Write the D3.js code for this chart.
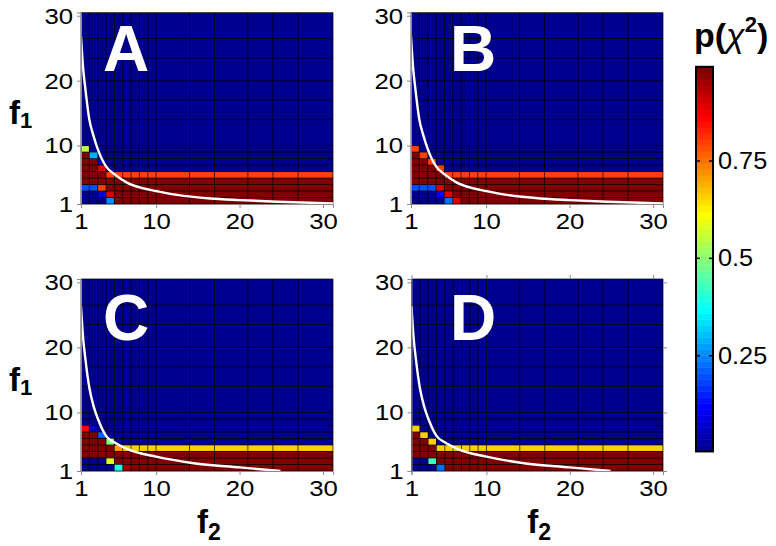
<!DOCTYPE html>
<html>
<head>
<meta charset="utf-8">
<title>p(chi2) maps</title>
<script src="https://d3js.org/d3.v7.min.js"></script>
<style>
  body { margin: 0; background: #fff; }
  text { font-family: "Liberation Sans", Arial, sans-serif; }
</style>
</head>
<body>
<script>
// cell edges of the pcolor grid
var f1Edges = [1, 2, 3, 4, 5, 6, 7, 8, 9, 10, 14, 17, 20, 23.5, 26.5, 30.5];
var f2Edges = [1, 2, 3, 4, 5, 6, 7, 8, 9, 10, 14, 17, 21, 24, 27, 31.2];
var axisTicks = [1, 10, 20, 30];
var cbTicks = [0.25, 0.5, 0.75];
var cbLabels = ['0.25', '0.5', '0.75'];
var cbRange = [0.004, 0.992];

// p(chi2) per cell, rows from f1 = 1 upward, columns from f2 = 1 rightward
var pA = [
  [0, 0, 0, 0.255, 1, 1, 1, 1, 1, 1, 1, 1, 1, 1, 1],
  [0, 0, 0.08, 0.9, 1, 1, 1, 1, 1, 1, 1, 1, 1, 1, 1],
  [0.19, 0.19, 0.8, 1, 1, 1, 1, 1, 1, 1, 1, 1, 1, 1, 1],
  [1, 1, 1, 1, 1, 1, 1, 1, 1, 1, 1, 1, 1, 1, 1],
  [1, 1, 1, 0.8, 0.8, 0.8, 0.8, 0.8, 0.8, 0.8, 0.8, 0.8, 0.8, 0.8, 0.8],
  [1, 1, 0.9, 0, 0, 0, 0, 0, 0, 0, 0, 0, 0, 0, 0],
  [1, 1, 0.06, 0, 0, 0, 0, 0, 0, 0, 0, 0, 0, 0, 0],
  [1, 0.285, 0, 0, 0, 0, 0, 0, 0, 0, 0, 0, 0, 0, 0],
  [0.55, 0, 0, 0, 0, 0, 0, 0, 0, 0, 0, 0, 0, 0, 0],
  [0, 0, 0, 0, 0, 0, 0, 0, 0, 0, 0, 0, 0, 0, 0],
  [0, 0, 0, 0, 0, 0, 0, 0, 0, 0, 0, 0, 0, 0, 0],
  [0, 0, 0, 0, 0, 0, 0, 0, 0, 0, 0, 0, 0, 0, 0],
  [0, 0, 0, 0, 0, 0, 0, 0, 0, 0, 0, 0, 0, 0, 0],
  [0, 0, 0, 0, 0, 0, 0, 0, 0, 0, 0, 0, 0, 0, 0],
  [0, 0, 0, 0, 0, 0, 0, 0, 0, 0, 0, 0, 0, 0, 0]
];
var pB = [
  [0, 0, 0, 0, 0.22, 0.9, 1, 1, 1, 1, 1, 1, 1, 1, 1],
  [0, 0, 0, 0.11, 0.9, 1, 1, 1, 1, 1, 1, 1, 1, 1, 1],
  [0.2, 0.2, 0.2, 0.9, 1, 1, 1, 1, 1, 1, 1, 1, 1, 1, 1],
  [1, 1, 1, 1, 1, 1, 1, 1, 1, 1, 1, 1, 1, 1, 1],
  [1, 1, 1, 1, 0.8, 0.8, 0.8, 0.8, 0.8, 0.8, 0.8, 0.8, 0.8, 0.8, 0.8],
  [1, 1, 1, 0.8, 0, 0, 0, 0, 0, 0, 0, 0, 0, 0, 0],
  [1, 1, 0.8, 0, 0, 0, 0, 0, 0, 0, 0, 0, 0, 0, 0],
  [1, 0.8, 0, 0, 0, 0, 0, 0, 0, 0, 0, 0, 0, 0, 0],
  [0.8, 0, 0, 0, 0, 0, 0, 0, 0, 0, 0, 0, 0, 0, 0],
  [0, 0, 0, 0, 0, 0, 0, 0, 0, 0, 0, 0, 0, 0, 0],
  [0, 0, 0, 0, 0, 0, 0, 0, 0, 0, 0, 0, 0, 0, 0],
  [0, 0, 0, 0, 0, 0, 0, 0, 0, 0, 0, 0, 0, 0, 0],
  [0, 0, 0, 0, 0, 0, 0, 0, 0, 0, 0, 0, 0, 0, 0],
  [0, 0, 0, 0, 0, 0, 0, 0, 0, 0, 0, 0, 0, 0, 0],
  [0, 0, 0, 0, 0, 0, 0, 0, 0, 0, 0, 0, 0, 0, 0]
];
var pC = [
  [0, 0, 0, 0, 0.4, 0.955, 1, 1, 1, 1, 1, 1, 1, 1, 1],
  [0, 0, 0, 0.58, 1, 1, 1, 1, 1, 1, 1, 1, 1, 1, 1],
  [1, 1, 1, 1, 1, 1, 1, 1, 1, 1, 1, 1, 1, 1, 1],
  [1, 1, 1, 1, 0.71, 0.66, 0.66, 0.66, 0.66, 0.66, 0.66, 0.66, 0.66, 0.66, 0.66],
  [1, 1, 1, 0.49, 0, 0, 0, 0, 0, 0, 0, 0, 0, 0, 0],
  [1, 1, 0.21, 0, 0, 0, 0, 0, 0, 0, 0, 0, 0, 0, 0],
  [0.86, 0.06, 0, 0, 0, 0, 0, 0, 0, 0, 0, 0, 0, 0, 0],
  [0, 0, 0, 0, 0, 0, 0, 0, 0, 0, 0, 0, 0, 0, 0],
  [0, 0, 0, 0, 0, 0, 0, 0, 0, 0, 0, 0, 0, 0, 0],
  [0, 0, 0, 0, 0, 0, 0, 0, 0, 0, 0, 0, 0, 0, 0],
  [0, 0, 0, 0, 0, 0, 0, 0, 0, 0, 0, 0, 0, 0, 0],
  [0, 0, 0, 0, 0, 0, 0, 0, 0, 0, 0, 0, 0, 0, 0],
  [0, 0, 0, 0, 0, 0, 0, 0, 0, 0, 0, 0, 0, 0, 0],
  [0, 0, 0, 0, 0, 0, 0, 0, 0, 0, 0, 0, 0, 0, 0],
  [0, 0, 0, 0, 0, 0, 0, 0, 0, 0, 0, 0, 0, 0, 0]
];
var pD = [
  [0, 0, 0, 0.22, 1, 1, 1, 1, 1, 1, 1, 1, 1, 1, 1],
  [0, 0, 0.43, 1, 1, 1, 1, 1, 1, 1, 1, 1, 1, 1, 1],
  [1, 1, 1, 1, 1, 1, 1, 1, 1, 1, 1, 1, 1, 1, 1],
  [1, 1, 1, 0.66, 0.66, 0.66, 0.66, 0.66, 0.66, 0.66, 0.66, 0.66, 0.66, 0.66, 0.66],
  [1, 1, 0.66, 0, 0, 0, 0, 0, 0, 0, 0, 0, 0, 0, 0],
  [1, 0.66, 0, 0, 0, 0, 0, 0, 0, 0, 0, 0, 0, 0, 0],
  [0.66, 0, 0, 0, 0, 0, 0, 0, 0, 0, 0, 0, 0, 0, 0],
  [0, 0, 0, 0, 0, 0, 0, 0, 0, 0, 0, 0, 0, 0, 0],
  [0, 0, 0, 0, 0, 0, 0, 0, 0, 0, 0, 0, 0, 0, 0],
  [0, 0, 0, 0, 0, 0, 0, 0, 0, 0, 0, 0, 0, 0, 0],
  [0, 0, 0, 0, 0, 0, 0, 0, 0, 0, 0, 0, 0, 0, 0],
  [0, 0, 0, 0, 0, 0, 0, 0, 0, 0, 0, 0, 0, 0, 0],
  [0, 0, 0, 0, 0, 0, 0, 0, 0, 0, 0, 0, 0, 0, 0],
  [0, 0, 0, 0, 0, 0, 0, 0, 0, 0, 0, 0, 0, 0, 0],
  [0, 0, 0, 0, 0, 0, 0, 0, 0, 0, 0, 0, 0, 0, 0]
];

// white boundary curve
var curveF2Top = [1, 1.25, 1.5, 2, 2.5, 3, 4, 5, 6.5, 8.5, 10, 12.5, 16.5, 20, 24.5, 31.2];
var curveF1Top = [26.8, 22, 19, 14, 11.5, 9.5, 6.8, 5.6, 4.3, 3.4, 3.0, 2.4, 1.85, 1.6, 1.35, 1.08];
var curveF2Bot = [1, 1.25, 1.5, 2, 2.5, 3, 4, 5, 6.5, 10, 14.5, 20, 24.9];
var curveF1Bot = [26.3, 21.5, 18.5, 13.8, 11, 9.1, 6.4, 5.4, 4.4, 3.2, 2.2, 1.55, 1.0];

// MATLAB-like jet(64)
var jetColors = d3.range(1, 65).map(function (i) {
  var t = i / 64;
  var c = function (v) { return Math.max(0, Math.min(1, v)) * 255; };
  return d3.rgb(c(1.5 - Math.abs(4 * t - 3)), c(1.5 - Math.abs(4 * t - 2)), c(1.5 - Math.abs(4 * t - 1))).toString();
});
var color = d3.scaleQuantize().domain([0, 1]).range(jetColors);

var panels = [
  { name: 'A', data: pA, left: 81, right: 333, top: 12.5, bottom: 204, cx: curveF2Top, cy: curveF1Top, lx: 126, ly: 71, ylab: true, xlab: false, box: false },
  { name: 'B', data: pB, left: 411, right: 663, top: 12.5, bottom: 204, cx: curveF2Top, cy: curveF1Top, lx: 473, ly: 71, ylab: false, xlab: false, box: false },
  { name: 'C', data: pC, left: 81, right: 333, top: 279, bottom: 471, cx: curveF2Bot, cy: curveF1Bot, lx: 126, ly: 340, ylab: true, xlab: true, box: false },
  { name: 'D', data: pD, left: 411.5, right: 663, top: 279, bottom: 471, cx: curveF2Bot, cy: curveF1Bot, lx: 473, ly: 340, ylab: false, xlab: true, box: true }
];

var svg = d3.select('body').append('svg')
  .attr('width', 776)
  .attr('height', 546);

panels.forEach(function (p, k) {
  var x = d3.scaleLinear().domain([1, 31.2]).range([p.left, p.right]);
  var y = d3.scaleLinear().domain([1, 30.5]).range([p.bottom, p.top]);
  var g = svg.append('g');

  svg.append('clipPath').attr('id', 'clip' + k)
    .append('rect')
    .attr('x', p.left).attr('y', p.top)
    .attr('width', p.right - p.left).attr('height', p.bottom - p.top);

  var cells = [];
  p.data.forEach(function (row, r) {
    row.forEach(function (v, c) { cells.push({ r: r, c: c, v: v }); });
  });
  g.selectAll('rect.cell')
    .data(cells)
    .enter().append('rect')
    .attr('class', 'cell')
    .attr('x', function (d) { return x(f2Edges[d.c]); })
    .attr('y', function (d) { return y(f1Edges[d.r + 1]); })
    .attr('width', function (d) { return x(f2Edges[d.c + 1]) - x(f2Edges[d.c]); })
    .attr('height', function (d) { return y(f1Edges[d.r]) - y(f1Edges[d.r + 1]); })
    .attr('fill', function (d) { return color(d.v); })
    .attr('shape-rendering', 'crispEdges');

  // pcolor edges
  g.selectAll('line.vg')
    .data(f2Edges)
    .enter().append('line')
    .attr('x1', function (d) { return x(d); }).attr('x2', function (d) { return x(d); })
    .attr('y1', p.top).attr('y2', p.bottom)
    .attr('stroke', '#000').attr('stroke-opacity', 0.7).attr('stroke-width', 1);
  g.selectAll('line.hg')
    .data(f1Edges)
    .enter().append('line')
    .attr('y1', function (d) { return y(d); }).attr('y2', function (d) { return y(d); })
    .attr('x1', p.left).attr('x2', p.right)
    .attr('stroke', '#000').attr('stroke-opacity', 0.7).attr('stroke-width', 1);

  // boundary curve
  var pts = p.cx.map(function (v, i) { return [v, p.cy[i]]; });
  g.append('path')
    .datum(pts)
    .attr('clip-path', 'url(#clip' + k + ')')
    .attr('fill', 'none')
    .attr('stroke', '#fff')
    .attr('stroke-width', 2.4)
    .attr('d', d3.line()
      .x(function (d) { return x(d[0]); })
      .y(function (d) { return y(d[1]); })
      .curve(d3.curveMonotoneX));

  // axes
  var yAxis = d3.axisLeft(y).tickValues(axisTicks).tickSize(4).tickPadding(3);
  var xAxis = d3.axisBottom(x).tickValues(axisTicks).tickSize(4).tickPadding(5);
  var ya = g.append('g').attr('transform', 'translate(' + p.left + ',0)').call(yAxis);
  var xa = g.append('g').attr('transform', 'translate(0,' + p.bottom + ')').call(xAxis);
  [ya, xa].forEach(function (a) {
    a.select('.domain').attr('stroke', '#8a8a8a');
    a.selectAll('.tick line').attr('stroke', '#8a8a8a');
    a.selectAll('.tick text')
      .attr('fill', '#000')
      .attr('transform', 'scale(1.12,1)')
      .style('font-size', '23px')
      .style('font-family', '"Liberation Sans", Arial, sans-serif');
  });
  if (p.box) {
    g.append('g').attr('transform', 'translate(0,' + p.top + ')')
      .call(d3.axisTop(x).tickValues(axisTicks).tickSize(4).tickFormat(''))
      .call(function (a) { a.select('.domain').remove(); a.selectAll('line').attr('stroke', '#8a8a8a'); });
    g.append('g').attr('transform', 'translate(' + p.right + ',0)')
      .call(d3.axisRight(y).tickValues(axisTicks).tickSize(4).tickFormat(''))
      .call(function (a) { a.select('.domain').remove(); a.selectAll('line').attr('stroke', '#8a8a8a'); });
  }

  // panel letter
  g.append('text')
    .attr('x', p.lx).attr('y', p.ly)
    .attr('text-anchor', 'middle')
    .attr('fill', '#fff')
    .style('font-size', '64px')
    .style('font-weight', 'bold')
    .text(p.name);

  if (p.ylab) {
    var t1 = g.append('text')
      .attr('x', 9).attr('y', (p.top + p.bottom) / 2 + 16)
      .style('font-weight', 'bold');
    t1.append('tspan').style('font-size', '33px').text('f');
    t1.append('tspan').style('font-size', '22px').attr('dy', 4).text('1');
  }
  if (p.xlab) {
    var t2 = g.append('text')
      .attr('x', (p.left + p.right) / 2 - 10).attr('y', 533)
      .style('font-weight', 'bold');
    t2.append('tspan').style('font-size', '33px').text('f');
    t2.append('tspan').style('font-size', '23px').attr('dy', 7).text('2');
  }
});

// colorbar
var cb = d3.scaleLinear().domain([0, 1]).range([453, 63.7]);
var cbX = 696, cbW = 17;
var bands = d3.range(64).map(function (i) {
  return { lo: cbRange[0] + (cbRange[1] - cbRange[0]) * i / 64, hi: cbRange[0] + (cbRange[1] - cbRange[0]) * (i + 1) / 64, c: jetColors[i] };
});
svg.append('g').selectAll('rect')
  .data(bands)
  .enter().append('rect')
  .attr('x', cbX).attr('width', cbW)
  .attr('y', function (d) { return cb(d.hi); })
  .attr('height', function (d) { return cb(d.lo) - cb(d.hi) + 0.5; })
  .attr('fill', function (d) { return d.c; });
svg.append('rect')
  .attr('x', cbX).attr('y', cb(cbRange[1]))
  .attr('width', cbW).attr('height', cb(cbRange[0]) - cb(cbRange[1]))
  .attr('fill', 'none').attr('stroke', '#000').attr('stroke-width', 2);
var cbt = svg.append('g').selectAll('g')
  .data(cbTicks)
  .enter().append('g')
  .attr('transform', function (d) { return 'translate(0,' + cb(d) + ')'; });
cbt.append('line').attr('x1', cbX).attr('x2', cbX + 4).attr('stroke', '#000').attr('stroke-width', 1.5);
cbt.append('line').attr('x1', cbX + cbW - 4).attr('x2', cbX + cbW).attr('stroke', '#000').attr('stroke-width', 1.5);
cbt.append('text')
  .attr('transform', 'translate(718,0) scale(1.1,1)')
  .attr('dy', '0.35em')
  .style('font-size', '23px')
  .text(function (d, i) { return cbLabels[i]; });

var title = svg.append('text')
  .attr('x', 694).attr('y', 47)
  .style('font-weight', 'bold')
  .style('font-size', '34px');
title.append('tspan').text('p(');
title.append('tspan').style('font-weight', 'normal').style('font-style', 'italic').text('χ');
title.append('tspan').style('font-size', '22px').attr('dy', -15).text('2');
title.append('tspan').attr('dy', 15).text(')');
</script>
</body>
</html>
